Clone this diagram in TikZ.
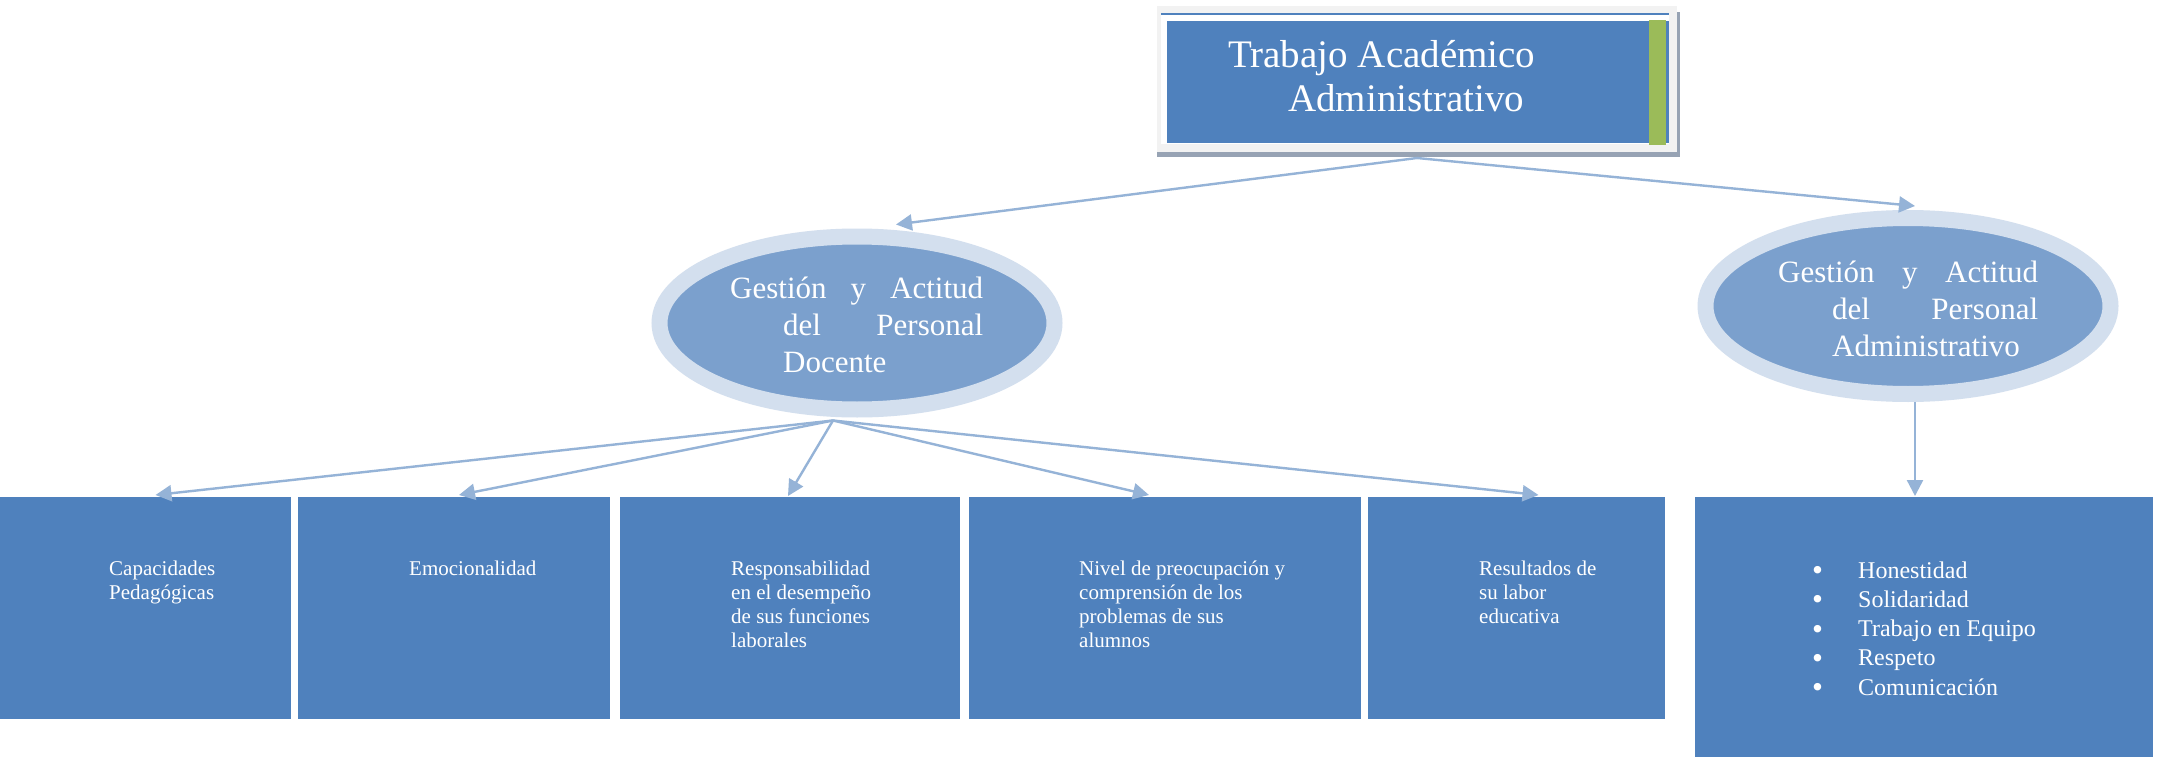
\documentclass[tikz,border=0pt]{standalone}
\usepackage{fontspec}
\setmainfont{Liberation Serif}
\usetikzlibrary{arrows.meta,shapes.geometric,calc}
\definecolor{boxblue}{HTML}{4F81BD}
\definecolor{ellc}{HTML}{7BA0CD}
\definecolor{ringc}{HTML}{D3DFEE}
\definecolor{arrowc}{HTML}{95B3D7}
\definecolor{framec}{HTML}{F2F2F2}
\definecolor{shadowc}{HTML}{97A3B4}
\definecolor{greenc}{HTML}{9BBB59}
\newcommand{\bul}{\makebox[46pt][l]{\raisebox{-2.5pt}{\scalebox{1.3}{•}}}}
\begin{document}
\begin{tikzpicture}[x=1pt,y=-1pt,
  conn/.style={draw=arrowc, line width=2.4pt, -{Triangle[length=16pt,width=16pt]}},
  leaf/.style={rectangle, fill=boxblue, draw=none, inner sep=0pt, outer sep=0pt, minimum height=222pt},
  ell/.style={ellipse, draw=ringc, fill=ellc, line width=16pt, inner sep=0pt},
  lbl/.style={text=white, inner sep=0pt, anchor=base west, font=\fontsize{21}{24}\selectfont},
  elbl/.style={text=white, inner sep=0pt, anchor=base west, font=\fontsize{31}{37}\selectfont},
  tlbl/.style={text=white, inner sep=0pt, anchor=base west, font=\fontsize{39}{44}\selectfont}]
\useasboundingbox[fill=white] (0,0) rectangle (2161,757);

% top box
\fill[shadowc] (1157,12) rectangle (1680,157);
\node[fill=framec, minimum width=520pt, minimum height=146pt, inner sep=0pt, outer sep=0pt] (F) at (1417,79) {};
\fill[white] (1161,14) rectangle (1669,144);
\fill[boxblue] (1161,13) rectangle (1669,15.5);
\fill[boxblue] (1167,21) rectangle (1669,143);
\fill[greenc] (1649,20) rectangle (1666,145);
\node[tlbl] (t0a) at (1228,68) {Trabajo Académico};
\node[tlbl] (t0b) at (1288,112) {Administrativo};

% ellipses
\node[ell, minimum width=395pt, minimum height=173pt] (L) at (857,323) {};
\node[elbl] (tL) at (730,298) {\vtop{\hbox to 253pt{Gestión\hfill y\hfill Actitud}\hbox to 253pt{\hspace*{53pt}del\hfill Personal}\hbox to 253pt{\hspace*{53pt}Docente\hfill}}};
\node[ell, minimum width=405pt, minimum height=176pt] (R) at (1908,306) {};
\node[elbl] (tR) at (1778,282) {\vtop{\hbox to 260pt{Gestión\hfill y\hfill Actitud}\hbox to 260pt{\hspace*{54pt}del\hfill Personal}\hbox to 260pt{\hspace*{54pt}Administrativo\hfill}}};

% bottom boxes
\node[leaf, minimum width=291pt] (B1) at (145.5,608) {};
\node[leaf, minimum width=312pt] (B2) at (454,608) {};
\node[leaf, minimum width=340pt] (B3) at (790,608) {};
\node[leaf, minimum width=392pt] (B4) at (1165,608) {};
\node[leaf, minimum width=297pt] (B5) at (1516.5,608) {};
\node[leaf, minimum width=458pt, minimum height=260pt] (B6) at (1924,627) {};

\node[lbl] (t1) at (109,575) {\vtop{\hbox{Capacidades}\hbox{Pedagógicas}}};
\node[lbl] (t2) at (409,575) {Emocionalidad};
\node[lbl] (t3) at (731,575) {\vtop{\hbox{Responsabilidad}\hbox{en el desempeño}\hbox{de sus funciones}\hbox{laborales}}};
\node[lbl] (t4) at (1079,575) {\vtop{\hbox{Nivel de preocupación y}\hbox{comprensión de los}\hbox{problemas de sus}\hbox{alumnos}}};
\node[lbl] (t5) at (1479,575) {\vtop{\hbox{Resultados de}\hbox{su labor}\hbox{educativa}}};
\node[lbl, font=\fontsize{24}{29.3}\selectfont] (t6) at (1812,578) {\vtop{\hbox{\bul Honestidad}\hbox{\bul Solidaridad}\hbox{\bul Trabajo en Equipo}\hbox{\bul Respeto}\hbox{\bul Comunicación}}};

% connectors
\coordinate (top) at ([yshift=-6pt]F.south);
\draw[conn] (top) -- ([xshift=39pt,yshift=4pt]L.north);
\draw[conn] (top) -- ([xshift=7pt,yshift=4pt]R.north);
\coordinate (lb) at ([xshift=-24pt,yshift=-3pt]L.south);
\draw[conn] (lb) -- ([xshift=10pt,yshift=2pt]B1.north);
\draw[conn] (lb) -- ([xshift=5pt,yshift=2pt]B2.north);
\draw[conn] (lb) -- ([xshift=-2pt,yshift=1pt]B3.north);
\draw[conn] (lb) -- ([xshift=-16pt,yshift=2pt]B4.north);
\draw[conn] (lb) -- ([xshift=22pt,yshift=2pt]B5.north);
\coordinate (b6t) at ([xshift=-9pt,yshift=1pt]B6.north);
\draw[conn] (R.south -| b6t) -- (b6t);
\end{tikzpicture}
\end{document}
